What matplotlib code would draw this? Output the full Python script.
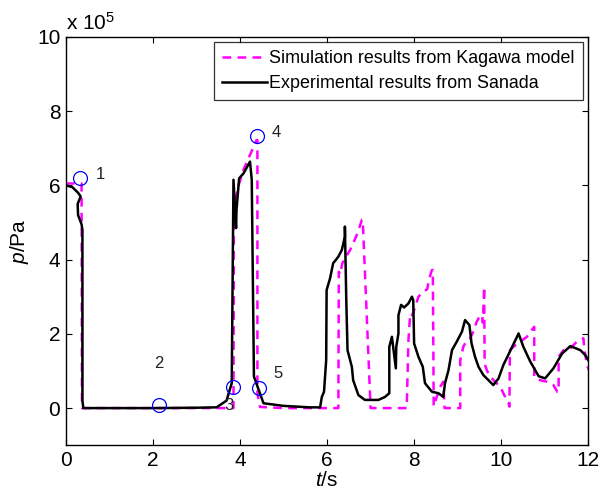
import matplotlib
matplotlib.use('Agg')
import matplotlib.pyplot as plt
from matplotlib.ticker import FuncFormatter
import numpy as np

plt.rcParams['font.family'] = ['Liberation Sans', 'DejaVu Sans']
plt.rcParams['mathtext.fontset'] = 'custom'
plt.rcParams['mathtext.rm'] = 'Liberation Sans'
plt.rcParams['mathtext.it'] = 'Liberation Sans:italic'

SCALE = 1e5  # pressures below are given in units of 1e5 Pa

# Experimental results from Sanada (black solid)
t_exp = [0.0, 0.15, 0.28, 0.34, 0.27, 0.28, 0.36, 0.38, 0.38, 0.40, 1.0, 2.0, 3.0, 3.46,
         3.69, 3.81, 3.85,
         3.91, 3.92, 3.98, 4.08, 4.23, 4.27, 4.32, 4.54, 5.0, 5.6, 5.84, 5.88, 5.93, 5.98,
         5.99, 6.07, 6.14, 6.26, 6.34, 6.41, 6.41, 6.44, 6.47, 6.57, 6.60, 6.72, 6.87,
         7.18, 7.33, 7.43, 7.43, 7.49, 7.58, 7.59, 7.64, 7.64, 7.70, 7.77, 7.87, 7.95,
         7.98, 8.0, 8.1, 8.2, 8.25, 8.41, 8.56, 8.67, 8.71, 8.79, 8.87, 8.98, 9.1, 9.17,
         9.27, 9.32, 9.40, 9.48, 9.59, 9.71, 9.82, 9.94, 10.05, 10.2, 10.4, 10.51, 10.67,
         10.86, 11.01, 11.2, 11.4, 11.59, 11.82, 11.93, 12.05]
p_exp = [6.0, 5.95, 5.8, 5.7, 5.5, 5.2, 4.95, 4.8, 0.2, 0.0, 0.0, 0.0, 0.01, 0.02,
         0.2, 0.67, 6.15,
         4.85, 5.34, 6.19, 6.32, 6.64, 6.15, 0.85, 0.13, 0.06, 0.02, 0.02, 0.3, 0.44, 1.29,
         3.18, 3.5, 3.9, 4.08, 4.26, 4.62, 4.89, 3.0, 1.56, 1.11, 0.75, 0.35, 0.22,
         0.22, 0.3, 0.4, 1.65, 1.92, 1.07, 1.65, 2.01, 2.5, 2.78, 2.71, 2.82, 3.0,
         2.91, 1.74, 1.38, 1.11, 0.67, 0.44, 0.4, 0.3, 0.67, 1.02, 1.56, 1.79, 2.06, 2.37,
         2.24, 1.74, 1.38, 1.11, 0.89, 0.75, 0.62, 0.8, 1.16, 1.52, 2.01, 1.65, 1.25,
         0.86, 0.8, 1.07, 1.47, 1.67, 1.56, 1.43, 1.2]

# Simulation results from Kagawa model (magenta dashed)
t_sim = [0.0, 0.36, 0.37, 1.0, 2.0, 3.0, 3.85, 3.86, 3.96, 4.08, 4.23, 4.38, 4.40, 4.40,
         4.46, 5.0, 6.0, 6.26, 6.27, 6.30, 6.35, 6.41, 6.53, 6.60, 6.70, 6.80, 6.82,
         7.0, 7.83, 7.87, 7.91, 7.96, 8.10, 8.21, 8.30, 8.35, 8.41, 8.43, 8.45, 8.52,
         8.60, 8.67, 8.70, 9.06, 9.06, 9.13, 9.21, 9.29, 9.36, 9.44, 9.50, 9.56, 9.58,
         9.61, 9.62, 9.67, 9.75, 9.86, 9.98, 10.05, 10.11, 10.17, 10.19, 10.20, 10.28,
         10.44, 10.59, 10.70, 10.76, 10.76, 10.90, 11.05, 11.20, 11.29, 11.32, 11.32,
         11.43, 11.59, 11.74, 11.89, 11.91, 11.97, 12.05]
p_sim = [6.05, 6.05, 0.0, 0.0, 0.0, 0.0, 0.0, 5.43, 5.97, 6.42, 6.82, 7.22, 7.22, 0.4,
         0.03, 0.0, 0.0, 0.0, 3.67, 3.6, 3.9, 4.03, 4.26, 4.44, 4.71, 5.07, 5.07,
         0.0, 0.0, 1.83, 2.55, 2.5, 3.0, 3.14, 3.2, 3.5, 3.72, 3.72, 0.05, 0.3,
         0.57, 0.71, 0.0, 0.0, 1.29, 1.65, 1.83, 1.88, 2.06, 2.33, 2.46, 2.51, 2.3,
         3.27, 1.2, 1.02, 0.84, 0.71, 0.57, 0.4, 0.26, 0.13, 0.04, 1.56, 1.65,
         1.79, 1.92, 2.1, 2.19, 0.84, 0.75, 0.71, 0.62, 0.44, 0.44, 1.38,
         1.56, 1.61, 1.79, 1.88, 1.6, 1.16, 0.93]

# numbered state points (blue circles) and their labels
pt_t = [0.32, 2.14, 3.85, 4.40, 4.44]
pt_p = [6.19, 0.08, 0.57, 7.33, 0.53]
lab_t = [0.8, 2.14, 3.75, 4.83, 4.88]
lab_p = [6.28, 1.2, 0.08, 7.42, 0.92]
labels = ['1', '2', '3', '4', '5']

fig = plt.figure(figsize=(5.99, 4.98), dpi=100)
ax = fig.add_axes([0.110, 0.106, 0.872, 0.820])

ax.plot(t_sim, np.array(p_sim) * SCALE, color='#ff00ff', linestyle=(0, (3.5, 2.5)),
        linewidth=1.8, label='Simulation results from Kagawa model')
ax.plot(t_exp, np.array(p_exp) * SCALE, color='black', linewidth=1.8,
        label='Experimental results from Sanada')
ax.plot(pt_t, np.array(pt_p) * SCALE, linestyle='none', marker='o', markersize=10,
        markerfacecolor='none', markeredgecolor='#0000ff', markeredgewidth=0.9)
for tx, py, s in zip(lab_t, lab_p, labels):
    ax.text(tx, py * SCALE, s, fontsize=12, ha='center', va='center', color='#222222')

ax.set_xlim(0, 12)
ax.set_ylim(-1 * SCALE, 10 * SCALE)
ax.set_xticks(np.arange(0, 13, 2))
ax.set_yticks(np.arange(0, 11, 2) * SCALE)
ax.yaxis.set_major_formatter(FuncFormatter(lambda v, pos: '%g' % (v / SCALE)))
ax.tick_params(direction='in', length=4, width=0.8, labelsize=15, top=True, right=True, pad=4)
for sp in ax.spines.values():
    sp.set_linewidth(1.0)

ax.text(0.0, 1.008, r'x 10$^{5}$', transform=ax.transAxes, fontsize=15, ha='left', va='bottom')

ax.set_xlabel(r'$\it{t}$/s', fontsize=15, labelpad=1)
ax.set_ylabel(r'$\it{p}$/Pa', fontsize=15, labelpad=4)

leg = ax.legend(loc='upper right', fontsize=12.9, frameon=True, fancybox=False,
                edgecolor='black', handlelength=2.5, handletextpad=0.15, borderpad=0.45,
                labelspacing=0.45, borderaxespad=0.3)
leg.get_frame().set_linewidth(0.9)

fig.savefig('out.png', dpi=100)
